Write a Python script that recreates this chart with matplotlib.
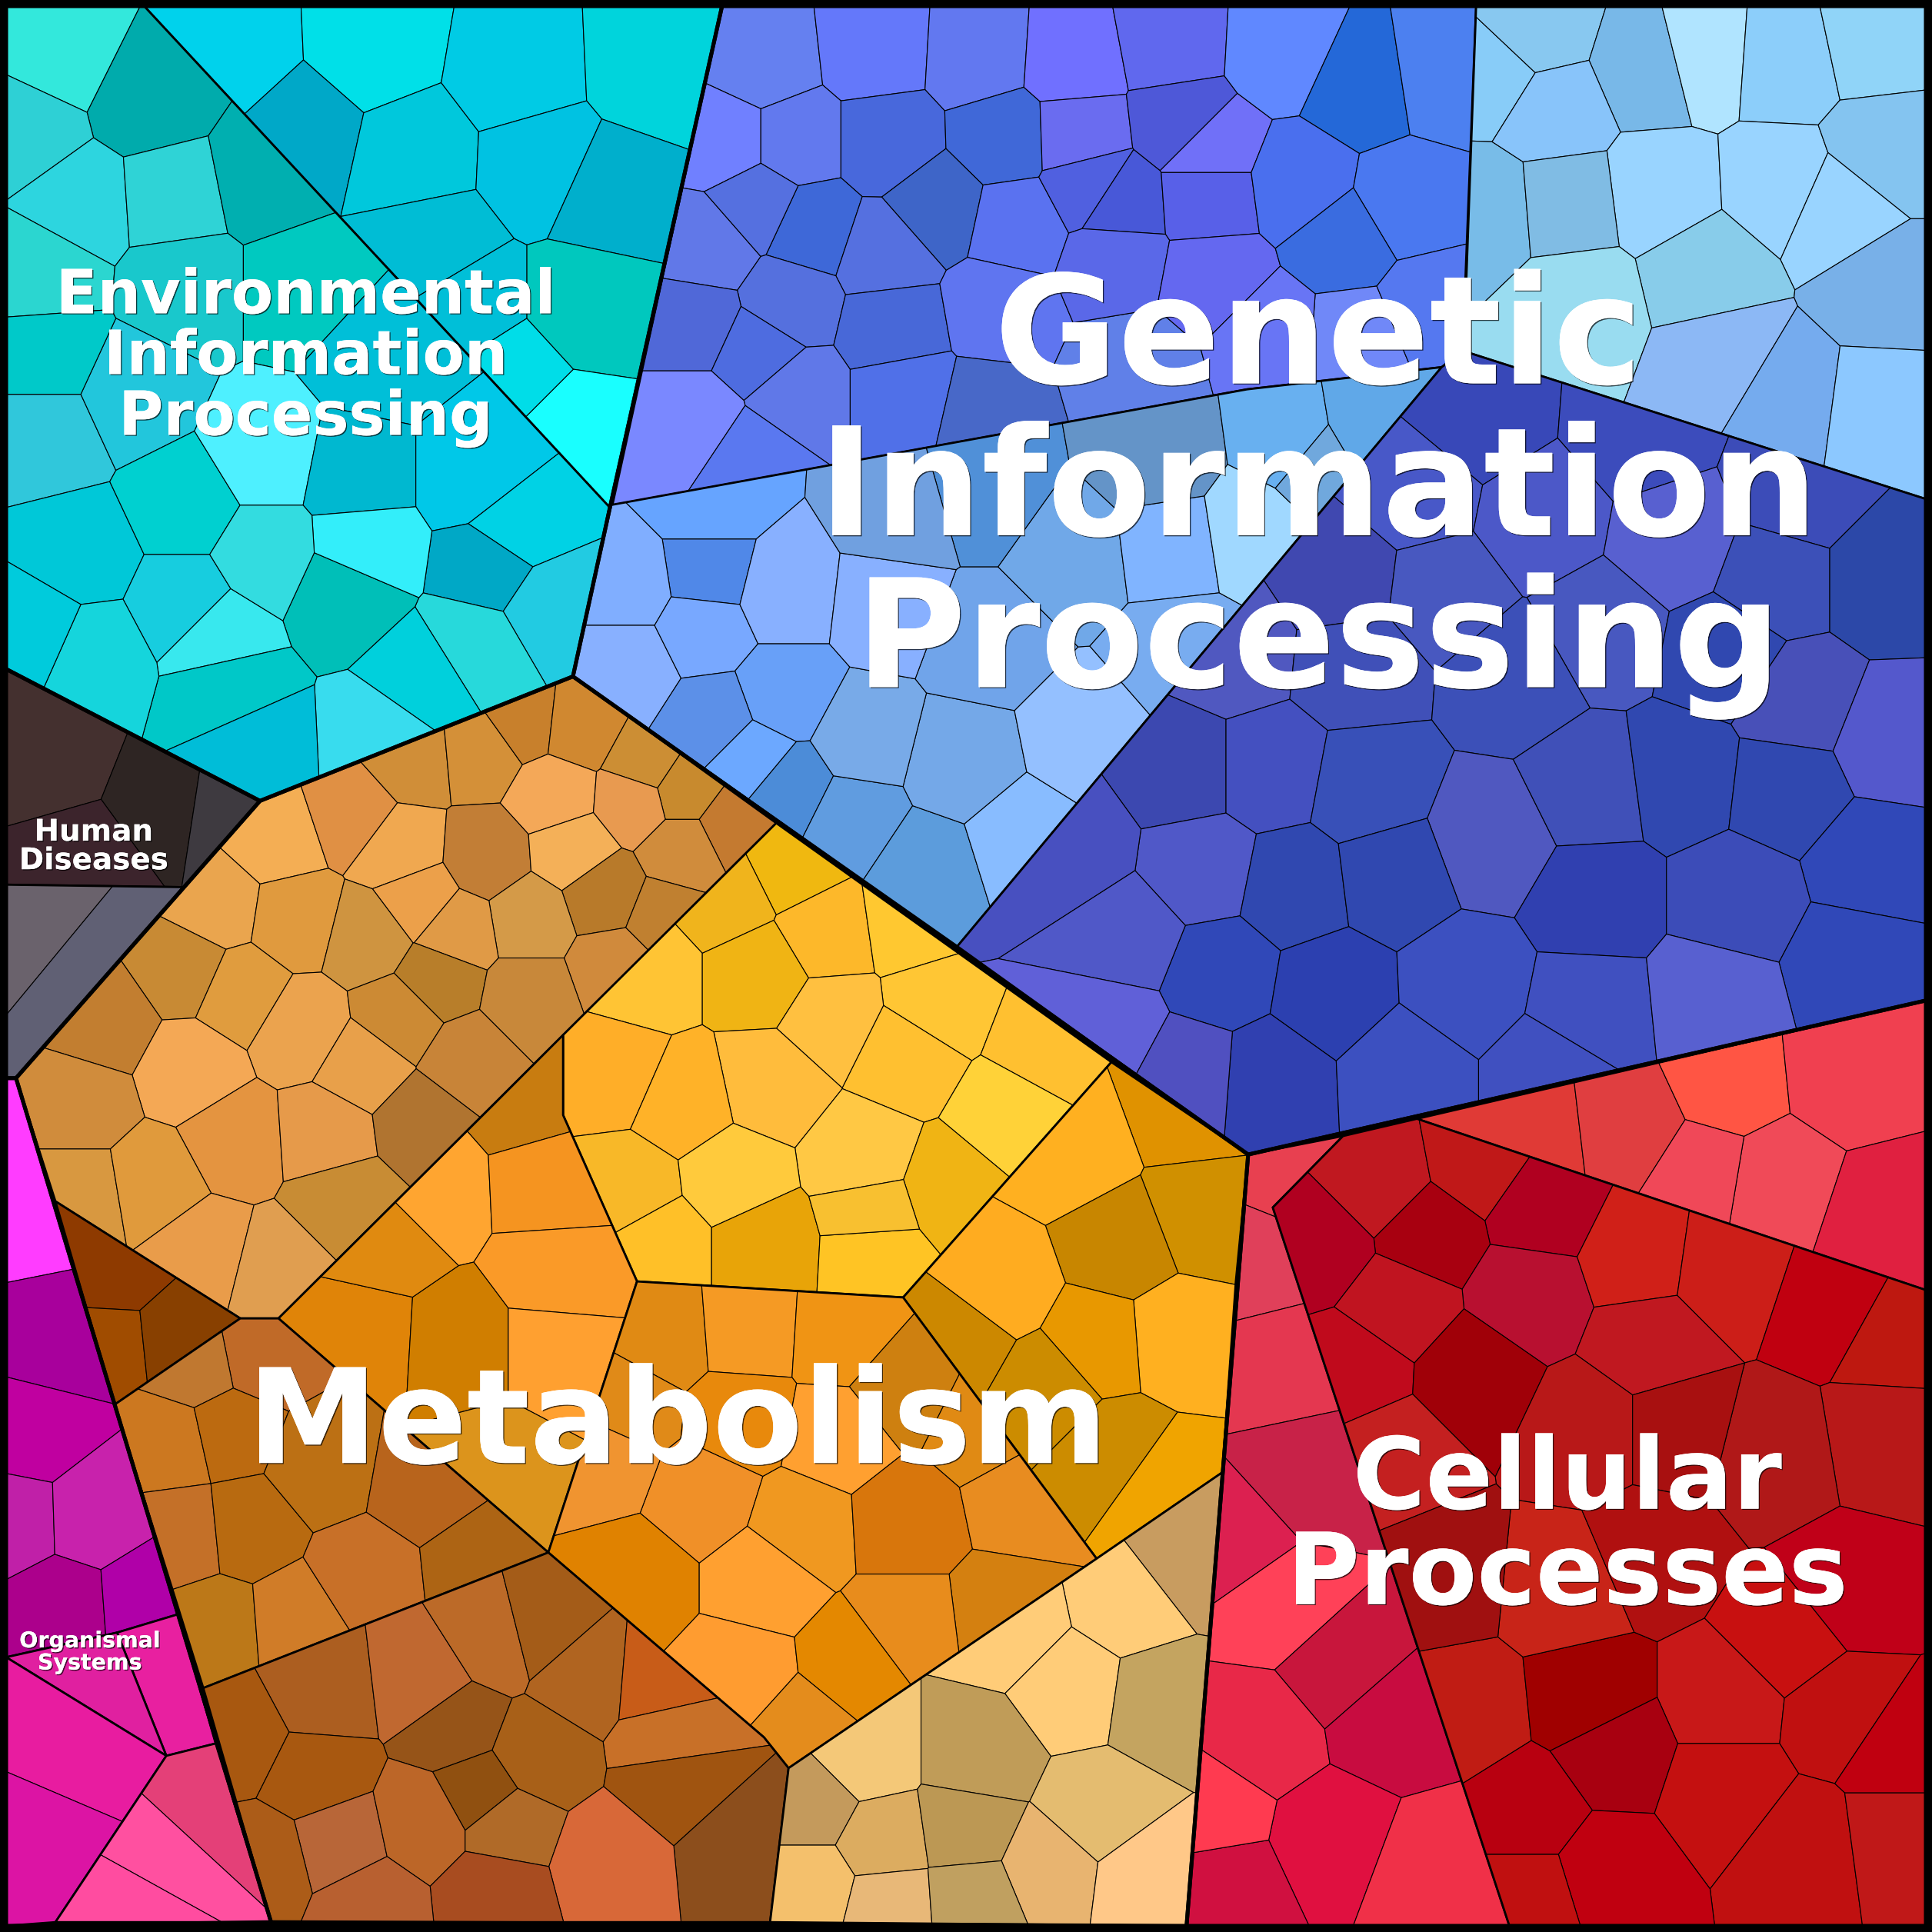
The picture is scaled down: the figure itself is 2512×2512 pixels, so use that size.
import matplotlib
matplotlib.use("Agg")
import matplotlib.pyplot as plt
import matplotlib.patheffects as pe
from matplotlib.patches import Polygon

# Voronoi treemap: each group has an outline, and cells = (centre x, centre y, colour)
# read in a 1568 px view of the picture
env_a_outline = [(117, 5), (586, 5), (495, 412)]
env_a_cells = [
    (190, 45, '#00d2ec'), (302, 40, '#00e0e8'), (245, 105, '#00a8c8'), (335, 125, '#00c8dc'),
    (420, 60, '#00cbe5'), (530, 55, '#00d4dc'), (440, 130, '#00c2e2'), (495, 155, '#00afcc'),
    (350, 200, '#00bdd5'), (475, 250, '#00c8be'), (460, 350, '#19ffff'), (380, 250, '#00bfd8'),
    (415, 305, '#00dde8'),
]
env_b_outline = [(5, 5), (117, 5), (495, 412), (465, 549), (211, 650), (5, 543)]
env_b_cells = [
    (50, 45, '#33e8dc'), (120, 80, '#00abac'), (22, 105, '#2ed0d5'), (65, 165, '#2dd5df'),
    (140, 160, '#2fd3d6'), (215, 145, '#00afb0'), (35, 220, '#2bd6d0'), (150, 230, '#19c8cc'),
    (245, 230, '#00c9c0'), (310, 290, '#00bfd8'), (40, 350, '#30c7db'), (105, 320, '#22c6dc'),
    (40, 290, '#00c9c9'), (65, 450, '#00c8d8'), (150, 410, '#00d0d0'), (215, 370, '#4ef0ff'),
    (150, 490, '#17cddf'), (290, 385, '#00b8d0'), (385, 385, '#00c8e8'), (420, 430, '#00d2e5'),
    (400, 460, '#00a8c6'), (445, 490, '#22cbe2'), (385, 525, '#27d9db'), (280, 480, '#00bfb8'),
    (295, 445, '#33eefa'), (175, 515, '#38e8ee'), (215, 450, '#33dce0'), (185, 560, '#00c8c8'),
    (345, 550, '#00d0dc'), (310, 600, '#38dcee'), (205, 605, '#00bdd8'), (75, 530, '#15d5dc'),
    (30, 510, '#00cbdc'),
]
gen_top_outline = [(586, 5), (840, 5), (1198, 5), (1187, 285), (1170, 298), (1012, 316), (497, 410)]
gen_top_cells = [
    (620, 50, '#6580f0'), (710, 40, '#6478fa'), (795, 45, '#6278f0'), (590, 115, '#7080ff'),
    (645, 115, '#6279ee'), (720, 115, '#4868dc'), (815, 112, '#4068d8'), (575, 200, '#6178e8'),
    (658, 185, '#3e68d8'), (615, 165, '#5570e0'), (760, 168, '#3e65c8'), (718, 205, '#5570e0'),
    (825, 182, '#5a72f0'), (640, 245, '#5570de'), (725, 265, '#4868d8'), (810, 250, '#5f75f0'),
    (565, 262, '#5068d8'), (615, 285, '#4e6ce0'), (645, 320, '#6078e8'), (565, 340, '#7a88ff'),
    (735, 320, '#5070e8'), (610, 370, '#5a78f0'), (800, 335, '#4868c8'), (920, 300, '#6080e8'),
    (870, 50, '#7070ff'), (875, 110, '#6a6cf0'), (950, 35, '#6068ee'), (960, 100, '#4e58d8'),
    (885, 150, '#5060e0'), (980, 120, '#7070f8'), (908, 165, '#4858d8'), (980, 160, '#5860e8'),
    (905, 210, '#5a68e8'), (985, 225, '#6468f0'), (1040, 40, '#6088ff'), (1105, 70, '#2468d8'),
    (1170, 60, '#4c80f0'), (1055, 150, '#4a6fee'), (1140, 165, '#4a78f0'), (1090, 195, '#3a6ce0'),
    (1100, 275, '#7088f8'), (1160, 250, '#5578f0'), (1030, 270, '#6875f5'),
]
gen_light_outline = [(1198, 5), (1563, 5), (1563, 405), (1188, 285)]
gen_light_cells = [
    (1212, 60, '#88ccf8'), (1208, 170, '#78bce8'), (1245, 25, '#88c8f0'), (1340, 55, '#78b8e8'),
    (1260, 90, '#88c4fa'), (1380, 45, '#b0e4ff'), (1450, 50, '#8ccefa'), (1520, 35, '#90d4f8'),
    (1348, 155, '#99d4ff'), (1270, 165, '#80bce4'), (1445, 150, '#99d4ff'), (1530, 120, '#84c4f0'),
    (1490, 170, '#99d4ff'), (1385, 220, '#88ccea'), (1280, 245, '#99dcf0'), (1400, 290, '#8cb8f5'),
    (1450, 320, '#75abee'), (1530, 235, '#78b0e8'), (1525, 330, '#8cc8ff'),
]
gen_mid_outline = [(495, 410), (1012, 316), (1170, 298), (777, 768), (465, 549)]
gen_mid_cells = [
    (575, 410, '#66a4ff'), (575, 465, '#5088e8'), (510, 475, '#80aeff'), (510, 540, '#88b0ff'),
    (570, 510, '#78a8ff'), (635, 480, '#88b0ff'), (635, 565, '#68a0f8'), (580, 585, '#5c90e8'),
    (610, 615, '#6ca8ff'), (640, 640, '#4c8cd8'), (690, 665, '#609ce0'), (750, 705, '#5c9cdc'),
    (830, 680, '#88bcff'), (780, 620, '#74a8e8'), (700, 600, '#78aae8'), (880, 600, '#94c0ff'),
    (800, 520, '#70a4ea'), (720, 490, '#88b0ff'), (870, 450, '#70a8e8'), (950, 440, '#80b4ff'),
    (960, 530, '#78acf0'), (800, 400, '#5090d8'), (940, 375, '#6494c8'), (1050, 360, '#68b0f0'),
    (1110, 350, '#60a8e8'), (1015, 430, '#a0d8ff'), (1068, 375, '#70a8dd'), (730, 420, '#70a0e0'),
]
gen_dark_outline = [(1170, 298), (1188, 285), (1563, 405), (1563, 812), (1013, 937), (777, 768)]
gen_dark_cells = [
    (1200, 340, '#3848b8'), (1330, 350, '#3c4cbc'), (1460, 400, '#3c4cb8'), (1150, 400, '#4858c8'),
    (1250, 420, '#4c58c8'), (1360, 440, '#5860d0'), (1440, 470, '#3c50b8'), (1530, 470, '#2c48a8'),
    (1090, 470, '#4048b0'), (1170, 480, '#4858c0'), (1300, 510, '#4858c0'), (1400, 530, '#3048b0'),
    (1000, 530, '#5058c0'), (1100, 540, '#4050b8'), (1230, 550, '#3c50b8'), (1460, 570, '#4850b8'),
    (1535, 600, '#5458cc'), (960, 625, '#3c48b0'), (1030, 625, '#4450c0'), (1110, 640, '#3850b8'),
    (1210, 680, '#5058c0'), (1290, 640, '#4050b8'), (1365, 630, '#3048b0'), (1450, 640, '#3048b0'),
    (1520, 700, '#3048b8'), (975, 705, '#5058c8'), (1050, 720, '#3048b0'), (1130, 710, '#3048b0'),
    (1295, 730, '#3040b0'), (1410, 730, '#3c4cb8'), (990, 790, '#3048b8'), (1080, 805, '#2c40b0'),
    (1190, 800, '#3c50c0'), (1290, 820, '#4050c0'), (1505, 780, '#3048b8'), (1390, 810, '#5860d0'),
    (1030, 875, '#3040b0'), (1140, 870, '#3c50c0'), (1260, 870, '#4050c0'),
    (870, 690, '#4850c0'), (915, 760, '#5058c8'), (900, 835, '#6060d8'), (965, 870, '#5050c0'),
]
cell_top_outline = [(1090, 922), (1563, 812), (1563, 1047), (1150, 908)]
cell_top_cells = [
    (1240, 925, '#e03a36'), (1325, 915, '#e03e40'), (1400, 880, '#ff5544'), (1500, 870, '#f04050'),
    (1440, 960, '#f04a58'), (1530, 990, '#e02040'), (1380, 950, '#f04858'),
]
cell_left_outline = [(1013, 937), (1090, 922), (1033, 980), (1225, 1563), (963, 1563)]
cell_left_cells = [
    (1050, 950, '#e84050'), (1020, 1025, '#e0405a'), (1040, 1105, '#e43750'), (1060, 1200, '#c82248'),
    (1005, 1250, '#dc2050'), (1040, 1300, '#ff4158'), (1090, 1355, '#c8163c'), (1025, 1410, '#e82848'),
    (1125, 1395, '#c80c40'), (1080, 1490, '#e01040'), (1160, 1520, '#f03048'), (995, 1530, '#d01040'),
    (985, 1470, '#ff3a50'),
]
cell_dark_outline = [(1090, 922), (1150, 908), (1563, 1047), (1563, 1563), (1225, 1563), (1033, 980)]
cell_dark_cells = [
    (1120, 960, '#c01820'), (1200, 945, '#c01818'), (1250, 980, '#b00020'), (1160, 1000, '#a80010'),
    (1070, 1010, '#b00020'), (1240, 1050, '#b81030'), (1135, 1060, '#c01420'), (1330, 1020, '#d02018'),
    (1100, 1110, '#c00a1c'), (1195, 1115, '#a00008'), (1340, 1090, '#c01820'), (1290, 1160, '#b81818'),
    (1400, 1030, '#cc1e18'), (1490, 1060, '#c00010'), (1535, 1085, '#be1810'), (1530, 1165, '#b81818'),
    (1440, 1180, '#b01818'), (1360, 1160, '#a81010'), (1130, 1180, '#c42020'), (1190, 1390, '#c01c14'),
    (1290, 1380, '#a00000'), (1270, 1290, '#c82418'), (1170, 1280, '#a01010'), (1340, 1260, '#b01010'),
    (1500, 1290, '#c00018'), (1450, 1330, '#c81010'), (1400, 1380, '#c81818'), (1495, 1390, '#c01010'),
    (1310, 1420, '#a80010'), (1240, 1470, '#b80010'), (1400, 1450, '#c41010'), (1465, 1500, '#c01010'),
    (1540, 1490, '#c01818'), (1305, 1520, '#c00010'), (1240, 1540, '#c01010'), (1540, 1420, '#c00010'),
]
met_tan_outline = [(211, 650), (465, 549), (630, 668), (226, 1070), (195, 1070), (45, 975), (13, 875)]
met_tan_cells = [
    (225, 680, '#f4ae54'), (285, 660, '#e09044'), (335, 615, '#d08e38'), (390, 610, '#d49038'),
    (425, 585, '#c8802c'), (470, 590, '#d08830'), (450, 645, '#f4a858'), (525, 620, '#cc8e34'),
    (555, 640, '#c88a2e'), (595, 670, '#c47a30'), (515, 650, '#e89a50'), (555, 690, '#d08c3c'),
    (325, 690, '#f0a850'), (395, 695, '#c27e36'), (465, 690, '#f4b058'), (340, 730, '#eca04a'),
    (490, 725, '#b87a2a'), (175, 735, '#eaa54e'), (240, 745, '#e09a3e'), (430, 745, '#d49a48'),
    (370, 755, '#e09a46'), (300, 760, '#cf9440'), (150, 785, '#c88a34'), (540, 745, '#c08030'),
    (500, 785, '#d08a3c'), (195, 805, '#e09c3e'), (355, 795, '#b87e2a'), (430, 810, '#c8883a'),
    (85, 830, '#c27e30'), (245, 835, '#eba34e'), (325, 825, '#cc8a34'), (155, 868, '#f4a855'),
    (295, 865, '#e8a04a'), (380, 860, '#c88438'), (65, 895, '#d08c3c'), (190, 925, '#e49440'),
    (265, 920, '#e69a4a'), (342, 910, '#b07430'), (65, 970, '#d89840'), (125, 960, '#e09a3c'),
    (165, 1015, '#e99c4a'), (280, 975, '#c88c34'), (225, 1030, '#e09e50'),
]
met_dark_outline = [(45, 975), (195, 1070), (93, 1140)]
met_dark_cells = [(95, 1035, '#8e3a00'), (92, 1090, '#a04c00'), (140, 1085, '#884000')]
met_yellow_outline = [(630, 668), (902, 862), (733, 1053), (517, 1040), (457, 905), (457, 840)]
met_yellow_cells = [
    (640, 700, '#f0b810'), (590, 725, '#f0b41c'), (670, 760, '#fdb82a'), (520, 790, '#ffc434'),
    (620, 790, '#f0b414'), (740, 750, '#ffc830'), (760, 815, '#ffc634'), (850, 850, '#ffc030'),
    (735, 855, '#ffc030'), (675, 825, '#ffc040'), (625, 880, '#ffbc3c'), (820, 905, '#ffd238'),
    (700, 940, '#ffc844'), (498, 870, '#ffae28'), (555, 895, '#ffb228'), (510, 965, '#f8b828'),
    (595, 955, '#ffca3c'), (535, 1010, '#ffc028'), (620, 1010, '#e8a408'), (710, 1015, '#ffc424'),
    (770, 965, '#f0b414'), (708, 985, '#f8c030'),
]
met_gold_outline = [(902, 862), (1013, 937), (1003, 1040), (992, 1195), (890, 1265), (733, 1053)]
met_gold_cells = [
    (965, 900, '#e09200'), (870, 935, '#ffb020'), (975, 985, '#d09000'), (910, 1010, '#c88600'),
    (810, 1045, '#ffac20'), (955, 1085, '#ffb020'), (780, 1085, '#cc8800'), (890, 1090, '#e89800'),
    (850, 1125, '#cc8c00'), (905, 1180, '#cc8c00'), (940, 1205, '#f0a400'),
]
met_left_outline = [(226, 1070), (402, 895), (457, 840), (457, 905), (517, 1040), (445, 1260)]
met_left_cells = [
    (430, 890, '#c87c10'), (290, 1090, '#e08408'), (345, 965, '#ffa530'), (450, 960, '#f59420'),
    (455, 1035, '#fa9a28'), (375, 1095, '#d07e00'), (450, 1095, '#ffa030'), (310, 1000, '#e08a10'),
    (400, 1190, '#dc941c'),
]
met_mid_outline = [(517, 1040), (733, 1053), (890, 1265), (640, 1435), (620, 1410), (445, 1260)]
met_mid_cells = [
    (540, 1085, '#e08a14'), (605, 1080, '#f59a24'), (685, 1085, '#f09414'), (510, 1140, '#e08a18'),
    (600, 1150, '#e8890c'), (730, 1125, '#ce8010'), (800, 1160, '#e08a14'), (680, 1165, '#ffa030'),
    (570, 1215, '#f09028'), (650, 1240, '#f09820'), (735, 1235, '#d8760c'), (490, 1185, '#f09430'),
    (830, 1215, '#e88c20'), (515, 1280, '#e08200'), (815, 1310, '#d48010'), (620, 1280, '#ffa030'),
    (735, 1320, '#e88c1c'), (600, 1360, '#ff9c30'), (695, 1350, '#e48800'), (650, 1405, '#e48c1c'),
]
met_bronze_outline = [(195, 1070), (226, 1070), (445, 1260), (165, 1370), (93, 1140)]
met_bronze_cells = [
    (210, 1100, '#c06a28'), (160, 1110, '#c07830'), (140, 1170, '#cc7820'), (185, 1160, '#bc6a10'),
    (150, 1245, '#c47028'), (200, 1240, '#b86a10'), (260, 1190, '#bc7014'), (345, 1205, '#b8641c'),
    (175, 1320, '#bc7818'), (240, 1315, '#d07c28'), (295, 1280, '#c87028'), (390, 1270, '#ad6414'),
]
met_brown_outline = [(165, 1370), (445, 1260), (620, 1410), (640, 1435), (625, 1560), (220, 1560)]
met_brown_cells = [
    (260, 1375, '#ac5e20'), (345, 1365, '#c06830'), (400, 1330, '#bc6a28'), (440, 1320, '#a45c18'),
    (475, 1360, '#b06420'), (370, 1400, '#965418'), (535, 1365, '#c85c18'), (545, 1410, '#c87028'),
    (435, 1425, '#a86018'), (195, 1410, '#a85810'), (255, 1440, '#a85810'), (550, 1445, '#a05410'),
    (390, 1455, '#905010'), (275, 1495, '#b86638'), (345, 1480, '#bc6628'), (215, 1510, '#ac5c18'),
    (410, 1480, '#b06a28'), (600, 1500, '#8c4e1c'), (495, 1510, '#d86838'), (400, 1535, '#a84c20'),
    (300, 1545, '#b86030'),
]
met_light_outline = [(992, 1195), (963, 1563), (625, 1560), (640, 1435), (890, 1265)]
met_light_cells = [
    (960, 1265, '#c89c60'), (915, 1300, '#ffcc78'), (820, 1320, '#ffcc78'), (870, 1370, '#ffcc78'),
    (700, 1425, '#f4c878'), (795, 1425, '#c09c58'), (940, 1380, '#c4a460'), (890, 1470, '#e4bc70'),
    (660, 1465, '#c49a5c'), (715, 1495, '#dcac60'), (785, 1485, '#bc9854'), (660, 1530, '#f4c06c'),
    (720, 1545, '#e8b878'), (850, 1515, '#e8b470'), (790, 1540, '#c0a060'), (930, 1525, '#ffc888'),
]
human_top_outline = [(5, 543), (211, 650), (149, 720), (5, 718)]
human_top_cells = [(50, 620, '#44302f'), (125, 650, '#2e2523'), (190, 660, '#3e3a40'), (70, 690, '#3c242c')]
human_low_outline = [(5, 718), (149, 720), (13, 875), (5, 875)]
human_low_cells = [(24, 754, '#6a626c'), (70, 792, '#606074')]
org_up_outline = [(5, 875), (13, 875), (145, 1310), (95, 1325), (5, 1345)]
org_up_cells = [
    (25, 985, '#ff3cff'), (45, 1085, '#a8009c'), (25, 1165, '#c000a0'), (12, 1232, '#c020a8'),
    (75, 1230, '#c822ac'), (50, 1305, '#ac008c'), (118, 1300, '#b000a8'),
]
org_side_outline = [(95, 1325), (145, 1310), (175, 1415), (135, 1425)]
org_side_cells = [(135, 1370, '#e820a0')]
org_wedge_outline = [(5, 1345), (95, 1325), (135, 1425)]
org_wedge_cells = [(75, 1370, '#e020a0')]
org_low_outline = [(5, 1345), (135, 1425), (45, 1560), (5, 1563)]
org_low_cells = [(60, 1420, '#e81ca0'), (30, 1490, '#dc14a4')]
org_end_outline = [(135, 1425), (175, 1415), (220, 1560), (45, 1560)]
org_end_cells = [(160, 1462, '#e44078'), (125, 1500, '#ff50a0'), (100, 1545, '#ff4ca0')]

groups = [
    (env_a_outline, env_a_cells), (env_b_outline, env_b_cells),
    (gen_top_outline, gen_top_cells), (gen_light_outline, gen_light_cells),
    (gen_mid_outline, gen_mid_cells), (gen_dark_outline, gen_dark_cells),
    (cell_top_outline, cell_top_cells), (cell_left_outline, cell_left_cells),
    (cell_dark_outline, cell_dark_cells),
    (met_tan_outline, met_tan_cells), (met_dark_outline, met_dark_cells),
    (met_yellow_outline, met_yellow_cells), (met_gold_outline, met_gold_cells),
    (met_left_outline, met_left_cells), (met_mid_outline, met_mid_cells),
    (met_bronze_outline, met_bronze_cells), (met_brown_outline, met_brown_cells),
    (met_light_outline, met_light_cells),
    (human_top_outline, human_top_cells), (human_low_outline, human_low_cells),
    (org_up_outline, org_up_cells), (org_side_outline, org_side_cells),
    (org_wedge_outline, org_wedge_cells),
    (org_low_outline, org_low_cells), (org_end_outline, org_end_cells),
]
top_outlines = [
    [(5, 5), (586, 5), (495, 412), (465, 549), (211, 650), (5, 543)],
    [(586, 5), (1563, 5), (1563, 812), (1013, 937), (465, 549), (495, 412)],
    [(1013, 937), (1563, 812), (1563, 1563), (963, 1563)],
    [(1013, 937), (963, 1563), (220, 1560), (13, 875), (211, 650), (465, 549)],
    [(5, 543), (211, 650), (13, 875), (5, 875)],
    [(5, 875), (13, 875), (220, 1560), (5, 1563)],
]
labels = [
    ("Environmental\nInformation\nProcessing", 248, 290, 57, 1.05),
    ("Genetic\nInformation\nProcessing", 1070, 401, 141, 1.05),
    ("Metabolism", 550, 1158, 123, 1.0),
    ("Cellular\nProcesses", 1272, 1241, 93, 0.99),
    ("Human\nDiseases", 76, 687, 28, 0.97),
    ("Organismal\nSystems", 73, 1341, 20.5, 1.03),
]


def clip(poly, a, b):
    # keep the part of poly nearer to seed a than seed b
    mx, my = (a[0] + b[0]) / 2, (a[1] + b[1]) / 2
    nx, ny = a[0] - b[0], a[1] - b[1]
    out = []
    for i in range(len(poly)):
        p, q = poly[i], poly[(i + 1) % len(poly)]
        dp = (p[0] - mx) * nx + (p[1] - my) * ny
        dq = (q[0] - mx) * nx + (q[1] - my) * ny
        if dp >= 0:
            out.append(p)
        if dp * dq < 0:
            t = dp / (dp - dq)
            out.append((p[0] + t * (q[0] - p[0]), p[1] + t * (q[1] - p[1])))
    return out


fig = plt.figure(figsize=(25.12, 25.12), dpi=100, facecolor="black")
ax = fig.add_axes([0, 0, 1, 1])
ax.set_xlim(0, 1568)
ax.set_ylim(1568, 0)
ax.axis("off")

for outline, cells in groups:
    for i, c in enumerate(cells):
        poly = list(outline)
        for j, o in enumerate(cells):
            if i != j and poly:
                poly = clip(poly, c, o)
        if len(poly) > 2:
            ax.add_patch(Polygon(poly, closed=True, facecolor=c[2], edgecolor="black", linewidth=0.8))
    ax.add_patch(Polygon(outline, closed=True, fill=False, edgecolor="black", linewidth=2.0, joinstyle="round"))

for outline in top_outlines:
    ax.add_patch(Polygon(outline, closed=True, fill=False, edgecolor="black", linewidth=3.6, joinstyle="round"))

ax.add_patch(Polygon([(0, 0), (1568, 0), (1568, 1568), (0, 1568)], closed=True, fill=False,
                     edgecolor="black", linewidth=11))

for txt, x, y, size, spacing in labels:
    ax.text(x, y, txt, ha="center", va="center", color="white", fontsize=size, fontweight="bold",
            linespacing=spacing, family="DejaVu Sans",
            path_effects=[pe.withSimplePatchShadow(offset=(1.0, -1.0), shadow_rgbFace="black", alpha=0.7),
                          pe.Normal()])

fig.savefig("out.png", dpi=100, facecolor="black")
plt.close()
